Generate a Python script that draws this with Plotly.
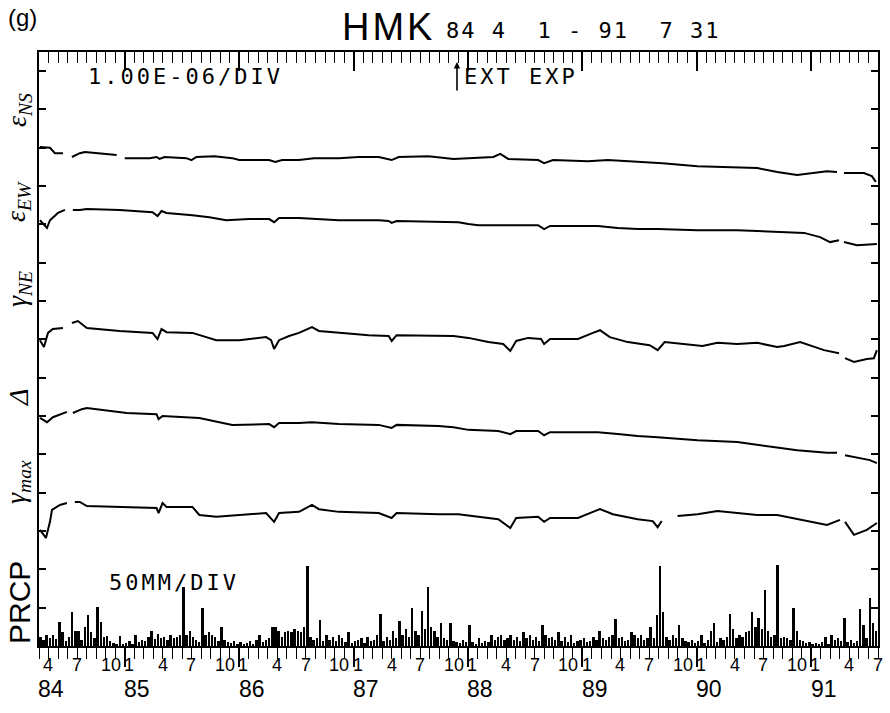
import plotly.graph_objects as go

# ---------------- data ----------------
# time in months since 1984-04-01 ; strain levels in units of 1E-06 (= 1 division)
ns_t = [0.10, 1.15, 1.67, 2.51, 2.90, 3.45, 4.28, 4.81, 6.37, 8.15, 8.60, 8.99, 11.60, 12.33, 12.64, 13.17,
        15.47, 15.99, 16.51, 18.39, 20.27, 21.00, 24.14, 24.77, 25.50, 27.27, 28.84, 31.45, 33.54, 35.63,
        36.99, 37.72, 40.86, 43.47, 46.08, 47.65, 48.38, 49.22, 52.35, 52.98, 53.92, 57.58, 59.67, 62.80,
        65.41, 69.07, 72.20, 75.34, 77.43, 79.52, 82.65, 83.70, 84.10, 84.43, 86.52, 87.36, 87.77]
ns_v = [13.02, 13.00, 12.86, 12.86, None, 12.76, 12.86, 12.89, 12.86, 12.81, None, 12.73, 12.73, 12.76, 12.71, 12.76,
        12.73, 12.68, 12.76, 12.78, 12.73, 12.68, 12.68, 12.63, 12.68, 12.68, 12.73, 12.73, 12.76, 12.76,
        12.68, 12.76, 12.78, 12.71, 12.73, 12.76, 12.84, 12.71, 12.68, 12.60, 12.68, 12.65, 12.68, 12.63,
        12.60, 12.52, 12.50, 12.47, 12.37, 12.29, 12.39, 12.37, None, 12.34, 12.34, 12.26, 12.11]

ew_t = [0.10, 0.84, 1.15, 1.46, 1.99, 2.72, 3.00, 3.55, 4.28, 5.02, 8.46, 11.91, 12.43, 12.85, 13.38, 16.09,
        17.87, 19.64, 22.05, 24.14, 24.66, 25.18, 27.27, 31.45, 35.63, 36.68, 36.99, 37.51, 41.90, 43.99,
        45.04, 46.08, 52.35, 52.98, 53.61, 58.62, 60.71, 62.80, 64.89, 69.07, 73.25, 77.43, 80.25, 81.92,
        82.65, 82.97, 83.91, 84.20, 84.43, 85.79, 87.88]
ew_v = [11.11, 10.91, 11.11, 11.19, 11.30, 11.38, None, 11.38, 11.38, 11.40, 11.38, 11.32, 11.22, 11.35, 11.30, 11.24,
        11.19, 11.11, 11.14, 11.14, 11.06, 11.17, 11.17, 11.11, 11.11, 11.09, 11.04, 11.09, 11.06, 11.06,
        11.01, 10.98, 10.98, 10.88, 10.96, 10.96, 10.91, 10.88, 10.88, 10.85, 10.85, 10.80, 10.78, 10.67,
        10.59, 10.54, 10.59, None, 10.54, 10.46, 10.49]

ne_t = [0.10, 0.52, 0.94, 1.46, 2.51, 3.00, 3.45, 4.08, 5.02, 8.46, 11.91, 12.43, 12.85, 13.38, 16.09, 16.82,
        18.60, 21.00, 23.82, 24.35, 24.66, 25.18, 26.23, 27.27, 28.63, 29.36, 31.45, 34.59, 36.68, 36.99,
        37.51, 40.86, 43.47, 45.04, 47.13, 48.69, 49.43, 50.05, 51.31, 52.66, 52.98, 53.61, 56.53, 58.10,
        58.84, 59.87, 61.76, 64.05, 64.89, 65.62, 68.03, 69.59, 71.16, 73.25, 75.34, 77.43, 78.16, 79.83,
        82.34, 83.91, 84.20, 84.54, 85.48, 86.83, 87.57, 87.88]
ne_v = [7.98, 7.80, 8.17, 8.27, 8.30, None, 8.43, 8.48, 8.30, 8.22, 8.17, 8.01, 8.27, 8.19, 8.17, 8.11,
        7.98, 7.98, 8.06, 7.98, 7.75, 7.98, 8.09, 8.17, 8.32, 8.22, 8.17, 8.11, 8.09, 7.96,
        8.11, 8.09, 8.09, 8.04, 7.93, 7.88, 7.70, 7.96, 8.04, 8.01, 7.88, 8.01, 8.01, 8.17,
        8.24, 8.06, 7.93, 7.85, 7.72, 7.93, 7.88, 7.83, 7.91, 7.88, 7.91, 7.80, 7.83, 7.93,
        7.72, 7.64, None, 7.51, 7.41, 7.49, 7.51, 7.72]

dl_t = [0.10, 0.84, 1.46, 2.93, 3.20, 3.55, 4.49, 5.02, 9.20, 12.33, 12.54, 12.96, 16.82, 20.27, 24.14, 24.66,
        25.18, 27.27, 28.63, 31.45, 35.63, 36.99, 37.51, 41.90, 43.47, 45.04, 48.17, 49.43, 50.05, 52.35,
        52.98, 53.61, 58.62, 60.71, 62.80, 64.89, 69.07, 73.25, 77.43, 79.52, 82.65, 83.70, 84.10, 84.54,
        87.15, 87.88]
dl_v = [5.95, 5.84, 5.97, 6.11, None, 6.08, 6.18, 6.21, 6.08, 6.05, 5.92, 6.00, 5.95, 5.77, 5.79, 5.71,
        5.82, 5.82, 5.84, 5.79, 5.77, 5.69, 5.77, 5.74, 5.71, 5.64, 5.61, 5.53, 5.61, 5.61,
        5.50, 5.58, 5.58, 5.53, 5.48, 5.45, 5.37, 5.32, 5.19, 5.11, 5.04, 5.04, None, 4.98,
        4.85, 4.77]

gm_t = [0.10, 0.73, 1.15, 1.36, 2.19, 2.93, 3.30, 3.76, 4.28, 5.02, 12.33, 12.54, 12.96, 13.38, 16.09, 16.82,
        18.60, 23.82, 24.66, 25.18, 27.27, 28.63, 29.36, 31.45, 35.63, 36.99, 37.51, 41.90, 43.99, 46.08,
        48.17, 49.43, 50.05, 52.35, 52.98, 53.61, 56.53, 58.10, 58.84, 60.19, 62.80, 64.37, 64.89, 65.31,
        65.90, 66.98, 69.07, 71.16, 73.25, 75.34, 77.43, 80.25, 82.65, 84.01, 84.30, 84.54, 85.48, 86.83,
        87.88]
gm_v = [3.03, 2.82, 3.24, 3.55, 3.68, 3.73, None, 3.76, 3.76, 3.65, 3.60, 3.47, 3.73, 3.63, 3.63, 3.42,
        3.37, 3.47, 3.24, 3.47, 3.50, 3.68, 3.57, 3.50, 3.47, 3.34, 3.47, 3.44, 3.44, 3.37,
        3.31, 3.08, 3.34, 3.37, 3.24, 3.34, 3.34, 3.50, 3.57, 3.44, 3.31, 3.26, 3.10, 3.26,
        None, 3.39, 3.44, 3.52, 3.47, 3.42, 3.42, 3.29, 3.16, 3.29, None, 3.24, 2.90, 3.03,
        3.21]

# precipitation, mm per ~10-day bin (3 bins per month), 50 mm = 1 division
prcp_1984 = [12, 8, 15, 10, 14, 9, 31, 18, 6, 12, 45, 20, 20, 8, 25, 40, 18, 10, 51, 31, 12, 13, 6, 4, 3, 13, 2]
prcp_1985 = [4, 6, 3, 15, 5, 8, 6, 12, 20, 9, 16, 10, 12, 8, 15, 10, 12, 14, 77, 15, 20, 12, 8, 5,
             50, 15, 18, 14, 12, 6, 25, 8, 5, 4, 6, 3]
prcp_1986 = [5, 3, 4, 6, 3, 8, 15, 5, 8, 10, 25, 25, 20, 12, 18, 20, 18, 22, 20, 18, 25, 104, 12, 8,
             10, 34, 6, 15, 8, 12, 6, 15, 10, 5, 18, 4]
prcp_1987 = [6, 8, 10, 4, 12, 6, 8, 15, 42, 6, 12, 8, 20, 10, 33, 15, 22, 12, 50, 20, 15, 46, 22, 77,
             25, 20, 12, 30, 10, 8, 30, 6, 5, 4, 8, 5]
prcp_1988 = [28, 5, 3, 10, 4, 6, 5, 15, 8, 12, 15, 8, 10, 14, 8, 12, 6, 18, 10, 14, 8, 12, 6, 27,
             15, 10, 12, 8, 18, 6, 12, 5, 15, 4, 6, 8]
prcp_1989 = [10, 5, 6, 12, 8, 20, 10, 8, 12, 14, 35, 10, 12, 6, 8, 18, 15, 10, 15, 8, 10, 25, 10, 40,
             104, 45, 12, 8, 15, 10, 27, 10, 6, 5, 8, 4]
prcp_1990 = [6, 15, 4, 8, 20, 30, 5, 10, 8, 12, 42, 22, 10, 15, 12, 18, 20, 45, 25, 36, 22, 73, 20, 12,
             15, 106, 10, 12, 10, 8, 50, 20, 8, 6, 4, 5]
prcp_1991 = [3, 4, 2, 5, 12, 3, 15, 8, 10, 6, 37, 5, 8, 4, 6, 48, 27, 10, 62, 30, 20]

month_labels = ['4', '7', '10', '1', '4', '7', '10', '1', '4', '7', '10', '1', '4', '7', '10', '1',
                '4', '7', '10', '1', '4', '7', '10', '1', '4', '7', '10', '1', '4', '7']
year_labels = ['84', '85', '86', '87', '88', '89', '90', '91']
year_first_month = [0, 9, 21, 33, 45, 57, 69, 81]

MM_PER_DIV = 50.0
N_MONTHS = 88

# ---------------- figure ----------------
W, H = 890, 713
L, R, T, B = 39, 10, 52, 67
PW, PH = W - L - R, H - T - B


def px(xp):
    return (xp - L) / PW


def py(yp):
    return (T + PH - yp) / PH


prcp = prcp_1984 + prcp_1985 + prcp_1986 + prcp_1987 + prcp_1988 + prcp_1989 + prcp_1990 + prcp_1991
prcp_t = [i / 3.0 + 1 / 6.0 for i in range(len(prcp))]
prcp_div = [v / MM_PER_DIV for v in prcp]

fig = go.Figure()
line = dict(color='black', width=2)
for t, v in [(ns_t, ns_v), (ew_t, ew_v), (ne_t, ne_v), (dl_t, dl_v), (gm_t, gm_v)]:
    fig.add_trace(go.Scatter(x=t, y=v, mode='lines', line=line, connectgaps=False,
                             hoverinfo='skip', showlegend=False))

fig.add_trace(go.Bar(x=prcp_t, y=prcp_div, width=0.2, marker=dict(color='black', line=dict(width=0)),
                     xaxis='x2', yaxis='y', hoverinfo='skip', showlegend=False))

fig.update_layout(
    width=W, height=H, margin=dict(l=L, r=R, t=T, b=B, pad=0),
    paper_bgcolor='white', plot_bgcolor='white', bargap=0,
    xaxis=dict(range=[0, N_MONTHS], showline=True, linecolor='black', linewidth=2,
               ticks='outside', tickmode='linear', tick0=9, dtick=12, ticklen=19, tickwidth=1.6,
               tickcolor='black',
               minor=dict(ticks='outside', tickmode='linear', tick0=0, dtick=1, ticklen=11,
                          tickwidth=1.3, tickcolor='black', showgrid=False),
               showticklabels=False, showgrid=False, zeroline=False),
    xaxis2=dict(range=[0, N_MONTHS], overlaying='x', side='top', anchor='y', showline=True,
                linecolor='black', linewidth=2,
                ticks='inside', tickmode='linear', tick0=9, dtick=12, ticklen=19, tickwidth=1.6,
                tickcolor='black',
                minor=dict(ticks='inside', tickmode='linear', tick0=0, dtick=1, ticklen=11,
                           tickwidth=1.3, tickcolor='black', showgrid=False),
                showticklabels=False, showgrid=False, zeroline=False),
    yaxis=dict(range=[0, 15.5], showline=True, mirror='ticks', linecolor='black', linewidth=2,
               ticks='inside', tickmode='linear', tick0=0, dtick=1, ticklen=7, tickwidth=1.6,
               tickcolor='black', showticklabels=False, showgrid=False, zeroline=False),
)

ann = []
SANS = 'Liberation Sans, Arial, sans-serif'
MONO = 'DejaVu Sans Mono, monospace'
SERIF = 'Liberation Serif, Times New Roman, serif'


def text(s, xp, yp, size, family=SANS, xanchor='center', angle=0, yanchor='middle'):
    ann.append(dict(text=s, x=px(xp), y=py(yp), xref='paper', yref='paper', showarrow=False,
                    xanchor=xanchor, yanchor=yanchor, textangle=angle,
                    font=dict(size=size, family=family, color='black')))


def spaced(s, sp):
    return '<span style="letter-spacing:%dpx">%s</span>' % (sp, s)


text('(g)', 22, 18, 24)
text(spaced('HMK', 3), 389, 27, 38)
text(spaced('84 4  1 - 91  7 31', 2), 445, 30, 22, MONO, xanchor='left')
text(spaced('1.00E-06/DIV', 3), 86, 76, 22, MONO, xanchor='left')
text(spaced('EXT EXP', 3), 463, 76, 22, MONO, xanchor='left')
text(spaced('50MM/DIV', 3), 107, 582, 22, MONO, xanchor='left')

# arrow for EXT EXP
ann.append(dict(text='', x=px(458), y=py(62), xref='paper', yref='paper', showarrow=True,
                ax=0, ay=30, arrowhead=2, arrowsize=0.8, arrowwidth=1.6, arrowcolor='black'))

text('<i>ε<sub>NS</sub></i>', 18, 110, 28, SERIF, angle=-90)
text('<i>ε<sub>EW</sub></i>', 18, 202, 28, SERIF, angle=-90)
text('<i>γ<sub>NE</sub></i>', 18, 289, 28, SERIF, angle=-90)
text('<i>Δ</i>', 18, 398, 28, SERIF, angle=-90)
text('<i>γ<sub>max</sub></i>', 18, 482, 28, SERIF, angle=-90)
text('PRCP', 19, 603, 30, SANS, angle=-90)

# bottom month / year labels (data x, paper y)
for i, lab in enumerate(month_labels):
    off = -0.3 if lab == '1' else 0.25
    ann.append(dict(text=lab, x=i * 3 + off, y=py(665), xref='x', yref='paper', showarrow=False,
                    xanchor='left', yanchor='middle', font=dict(size=18, family=SANS, color='black')))
for m0, lab in zip(year_first_month, year_labels):
    ann.append(dict(text=lab, x=m0 + 1.3, y=py(689), xref='x', yref='paper', showarrow=False,
                    xanchor='center', yanchor='middle', font=dict(size=23, family=SANS, color='black')))

fig.update_layout(annotations=ann)
fig.write_html('out.html', config={'displayModeBar': False},
               post_script="document.body.style.margin='0';document.body.style.overflow='hidden';")
